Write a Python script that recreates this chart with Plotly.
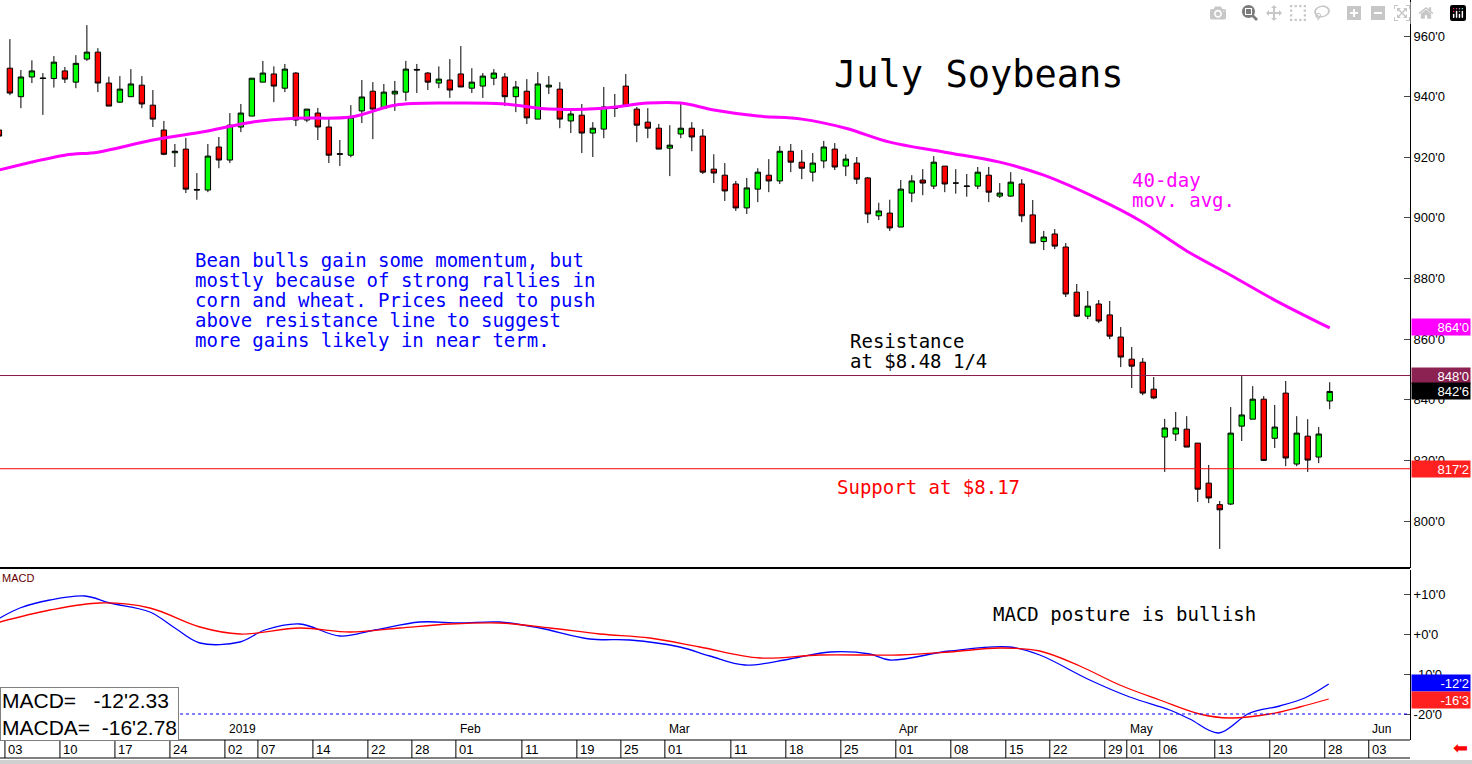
import plotly.graph_objects as go

idx = list(range(-1, 121))
opens = [929,949.4,940,946.5,946.2,946,948.5,944.8,952.4,954.7,944.5,938.2,940,943.8,937.2,929,921.5,922.7,909.4,909.2,923.4,919.1,930,933.6,944.8,947.5,942.8,947.8,932.3,934.6,930,921.2,920.7,935.3,941.8,936.2,940.9,941.5,949,947.8,944.5,945.5,947.5,942.8,943.5,946.1,946.5,940,941.8,932.6,943.2,942.5,932,933.9,928,929.3,936.1,943.5,935.9,931.6,929.6,923,927.7,929.6,927,916.1,914.1,911.2,903.3,909.5,914.1,912.2,922,918.4,915.1,918.8,922.7,917.1,918.1,913.2,900.7,901.6,897,908.2,912.5,910.5,917.1,911.5,910.4,910.5,914.1,907.2,907.2,911.2,901,892.2,894.7,890.4,875.5,867.6,871.6,868,860.7,853.4,852.4,843.5,827.7,828.7,830.3,825.7,812.5,805.4,805.6,831.3,833.6,840.2,827.3,842.2,818.8,828,821.1,839.6]
highs = [931,959,948.8,952,947.8,953.4,949.8,953.7,963.6,956,946.6,946.8,949.1,946.8,942.2,932,924.4,926.4,914.8,924.4,926.7,934.6,937.6,946.1,951.8,950,950.8,948.1,935.9,936.3,933.3,925.7,937.2,945.5,944.8,944.2,945.2,951.8,950.8,948.1,950,952.4,956.7,949.4,947.8,949.1,947.8,945.2,945.8,948.1,946.8,944.8,936.2,937.6,931.6,943.2,940.9,947.5,936.6,936.2,931,930.6,937.6,931.6,929.3,921,918.1,912.2,913.2,916.4,919.4,923.7,924.4,922.4,921.4,925.4,924.7,921,920.1,913.5,905,906,912.5,914.1,916.1,920.4,917.1,916.1,914.5,916.8,916.8,911.5,915.1,912.8,905.9,895.7,896.3,891.7,878.2,875.9,872.9,872.6,864,857.4,853.8,847.5,833.7,836,834.6,825.7,818.5,806.6,837.6,847.8,844.5,841.2,838.3,846.2,834.6,833.6,831,845.8]
lows = [925,940.5,936.2,944.5,934,943,944.5,942.8,951.8,941.5,936.9,938,940,936.2,930,920.7,916.8,908.2,906,908.5,916.4,918.1,928.3,933.6,944.8,938.2,941.5,930.3,931.6,925.7,918.1,917.1,920,931.3,926,936.2,935.3,938.6,941.2,942.2,942.8,939.6,943.2,941.2,939.6,943.8,936.9,934.9,931,932.6,940.9,929.6,928,921.4,920.1,926.3,933.3,936.9,925,926.3,922.7,913.8,926.3,922,914.5,911.5,905.6,902.3,901.3,905.2,908.5,911.2,915.1,912.8,912,916.4,915.8,913.8,911.2,898.3,899.3,895.7,897,905.2,907.5,909.5,908.5,908,907,909.5,905.2,906.6,907,898.6,891.7,889.4,889.7,873.9,867.3,866.6,865.3,860,850.8,843.9,841.5,840.2,816.2,826.4,824.4,806.3,805.9,790.8,805.3,826.4,833.6,819.8,824.1,818.1,818.1,816.2,819.1,836.9]
closes = [927,941.2,946.5,948.5,946,951.4,945.8,951,954.7,944.5,936.9,942.5,944.2,937.6,932.6,921,922,909.5,909.2,920.4,919.1,930.6,934.6,946.1,947.8,943.5,949.1,932.3,935.9,930,920.7,921,933.3,939.9,935.9,941.5,941.8,949.1,948.8,944.8,945.8,942.2,943.2,944.8,946.8,947.8,940,943.2,933,944.2,943.8,932.6,934.3,928,929.6,936.6,936.2,936.9,930.6,929.6,922.7,924,929.6,926.7,915.1,914.8,908.9,903.3,909.9,915.1,912.2,922,918.4,916.4,918.1,923.4,916.8,919.4,912.8,901.3,902.3,896.7,909.5,912.2,911.5,918.4,911.2,911.5,910.5,915.1,908.5,908.2,911.8,900.7,891.7,893.7,890.7,874.9,867.6,870.9,866,861,854.1,851.1,842.2,840.6,830.7,830.7,824.4,810.5,807.6,803.7,829,835,840.2,820,831,820.8,829,820.1,828.7,842.75]

ma_x = [-1,5,8,13,18,22,26,31,35,40,45,49,54,58,61,64,68,72,76,80,85,90,94,99,103,107,111,115,120]
ma_y = [915.8,920.7,921.7,925.7,928.7,931.6,932.9,933.3,937.2,937.9,937.6,935.9,936.2,937.9,937.9,935.6,933.6,932.6,929.6,925,921.7,918.4,914.1,906.2,898.6,889.1,881.1,872.9,863.7]

macd_px = [0,20,50,85,110,150,175,200,240,265,300,340,375,420,460,500,540,590,630,680,710,745,790,830,870,890,950,1010,1040,1090,1130,1170,1190,1219,1250,1280,1305,1329]
macd_v = [4,6.5,8.5,9.5,7.75,5.5,1.5,-2.25,-2,1,2.5,-0.5,1,3,2.75,3,1.5,-1.25,-1.5,-3.25,-5.5,-7.75,-6.25,-4.5,-5,-6.5,-4.25,-3.25,-5.25,-11.5,-15.75,-19,-21.25,-24.75,-19.75,-18,-16,-12.5]
macda_px = [0,50,100,150,200,240,300,350,400,450,500,550,600,650,700,760,820,900,950,1000,1040,1080,1120,1160,1200,1230,1270,1300,1329]
macda_v = [3,6,7.75,6.5,1.75,0,1.5,0.5,1.5,2.5,2.75,1.5,0,-1,-3.25,-6,-5.25,-5.25,-4.5,-3.5,-4.25,-8,-12.75,-16.5,-20,-21,-20,-18.25,-16.25]
macd_x = [(p - 10) / 11 for p in macd_px]
macda_x = [(p - 10) / 11 for p in macda_px]

tick_i = [0,5,10,15,20,23,28,33,37,41,47,52,56,60,66,71,76,81,86,91,95,100,102,105,110,115,120,124]
tick_lbl = ["03","10","17","24","02","07","14","22","28","01","11","19","25","01","11","18","25","01","08","15","22","29","01","06","13","20","28","03"]
month_i = [20,41,60,81,102,124]
month_lbl = ["2019","Feb","Mar","Apr","May","Jun"]
price_ticks = [800,820,840,860,880,900,920,940,960]
macd_ticks = [10,0,-10,-20]
macd_tick_lbl = ["+10'0","+0'0","-10'0","-20'0"]

resistance = 848.0
support = 817.25

note_lines = ["Bean bulls gain some momentum, but", "mostly because of strong rallies in",
              "corn and wheat. Prices need to push", "above resistance line to suggest",
              "more gains likely in near term."]

PH = 740.0
fig = go.Figure()
fig.add_trace(go.Candlestick(x=idx, open=opens, high=highs, low=lows, close=closes,
    increasing=dict(fillcolor="#00ff00", line=dict(color="black", width=1)),
    decreasing=dict(fillcolor="#ff0000", line=dict(color="black", width=1)),
    whiskerwidth=0, xaxis="x", yaxis="y", showlegend=False))
fig.add_trace(go.Scatter(x=ma_x, y=ma_y, mode="lines", line=dict(color="#ff00ff", width=3, shape="spline"),
    xaxis="x", yaxis="y", showlegend=False))
fig.add_trace(go.Scatter(x=macd_x, y=macd_v, mode="lines", line=dict(color="#0000ff", width=1.3, shape="spline"),
    xaxis="x2", yaxis="y2", showlegend=False))
fig.add_trace(go.Scatter(x=macda_x, y=macda_v, mode="lines", line=dict(color="#ff0000", width=1.3, shape="spline"),
    xaxis="x2", yaxis="y2", showlegend=False))

xr = [-0.9, 127.3]
fig.update_layout(
    width=1472, height=764, margin=dict(l=0, r=62, t=0, b=24),
    plot_bgcolor="white", paper_bgcolor="white",
    font=dict(family="Liberation Sans, Arial", color="black"),
    xaxis=dict(range=xr, showticklabels=False, showgrid=False, zeroline=False, rangeslider=dict(visible=False),
               anchor="y", fixedrange=True),
    xaxis2=dict(range=xr, showticklabels=False, showgrid=False, zeroline=False, anchor="y2"),
    yaxis=dict(domain=[1 - 568 / PH, 1], range=[784.5, 971.9], side="right", tickvals=price_ticks,
               ticktext=[f"{v}'0" for v in price_ticks], showgrid=False, zeroline=False,
               showline=True, linecolor="black", ticks="inside", ticklen=6, tickfont=dict(size=13)),
    yaxis2=dict(domain=[0, 170 / PH], range=[-26.5, 16], side="right", tickvals=macd_ticks,
                ticktext=macd_tick_lbl, showgrid=False, zeroline=False,
                showline=True, linecolor="black", ticks="inside", ticklen=6, tickfont=dict(size=13)),
)

shapes = []
shapes.append(dict(type="line", xref="paper", yref="y", x0=0, x1=1, y0=resistance, y1=resistance, line=dict(color="#8b1a4a", width=1)))
shapes.append(dict(type="line", xref="paper", yref="y", x0=0, x1=1, y0=support, y1=support, line=dict(color="#ff0000", width=1)))
shapes.append(dict(type="line", xref="paper", yref="y2", x0=0, x1=1, y0=-20, y1=-20, line=dict(color="#0000ff", width=1, dash="dot")))
shapes.append(dict(type="line", xref="paper", yref="paper", x0=0, x1=1, y0=1 - 568 / PH, y1=1 - 568 / PH, line=dict(color="black", width=2)))
shapes.append(dict(type="line", xref="paper", yref="paper", x0=0, x1=1, y0=0, y1=0, line=dict(color="black", width=1)))
shapes.append(dict(type="line", xref="paper", yref="paper", x0=0, x1=1, y0=-18 / PH, y1=-18 / PH, line=dict(color="black", width=1)))
shapes.append(dict(type="rect", xref="paper", yref="paper", x0=0, x1=1472 / 1410, y0=-24 / PH, y1=-20 / PH,
                   fillcolor="#d0d0d0", line=dict(width=0)))
for t in tick_i:
    shapes.append(dict(type="line", xref="x2", yref="paper", x0=t - 0.45, x1=t - 0.45, y0=0, y1=-18 / PH, line=dict(color="black", width=1)))
fig.update_layout(shapes=shapes)

ann = []
for t, l in zip(tick_i, tick_lbl):
    ann.append(dict(x=t - 0.35, y=-9 / PH, xref="x2", yref="paper", text=l, showarrow=False, xanchor="left",
                    yanchor="middle", font=dict(size=13)))
for t, l in zip(month_i, month_lbl):
    ann.append(dict(x=t - 0.3, y=2 / PH, xref="x2", yref="paper", text=l, showarrow=False, xanchor="left",
                    yanchor="bottom", font=dict(size=12)))
mono = "DejaVu Sans Mono"

def txt(x, y, s, size=19, color="black", fam=mono):
    ann.append(dict(x=x / 1410, y=1 - y / PH, xref="paper", yref="paper", text=s, showarrow=False,
                    xanchor="left", yanchor="middle", font=dict(family=fam, size=size, color=color)))

txt(832, 75, "July Soybeans", size=37)
for k, line in enumerate(note_lines):
    txt(193, 260 + 20 * k, line, color="#0000ff")
txt(848, 341, "Resistance")
txt(848, 361, "at $8.48 1/4")
txt(835, 487, "Support at $8.17", color="#ff0000")
txt(1130, 180, "40-day", color="#ff00ff")
txt(1130, 200, "mov. avg.", color="#ff00ff")
txt(991, 614, "MACD posture is bullish")
txt(0, 578, "MACD", size=11, color="#660000", fam="Liberation Sans")
ann.append(dict(x=0, y=1 - 714 / PH, xref="paper", yref="paper", align="left",
                text="MACD=   -12'2.33<br>MACDA=  -16'2.78", showarrow=False, xanchor="left", yanchor="middle",
                font=dict(family="Liberation Sans", size=21), bgcolor="white", bordercolor="#808080", borderwidth=1,
                borderpad=1))
badges = [("y", 864, "864'0", "#ff00ff"), ("y", 848, "848'0", "#8b2252"),
          ("y", 842.75, "842'6", "black"), ("y", 817.25, "817'2", "#ff2020"),
          ("y2", -12.3, "-12'2", "#0000ff"), ("y2", -16.4, "-16'3", "#ff2020")]
for yr, v, t, bg in badges:
    ann.append(dict(x=1.0, y=v, xref="paper", yref=yr, text=t, showarrow=False, xanchor="left", yanchor="middle",
                    xshift=1, bgcolor=bg, font=dict(size=13, color="white"), width=56, align="right", height=14))
ann.append(dict(x=1460 / 1410, y=-8 / PH, xref="paper", yref="paper", text="⬅", showarrow=False,
                font=dict(size=18, color="#ff0000"), xanchor="center", yanchor="middle"))
fig.update_layout(annotations=ann)
fig.write_html("out.html", post_script="document.body.style.margin='0';document.body.style.padding='0';")
